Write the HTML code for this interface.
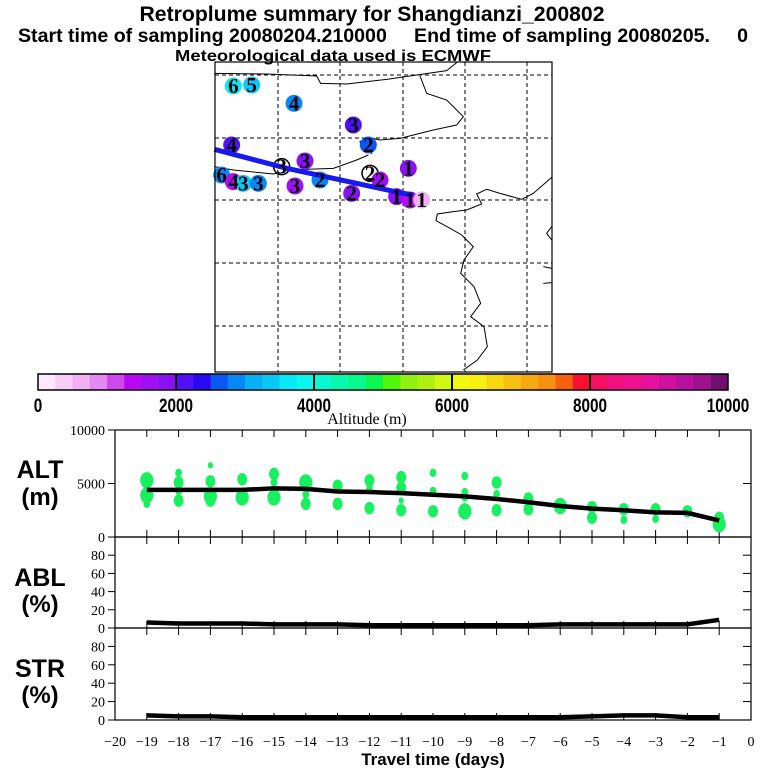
<!DOCTYPE html>
<html><head><meta charset="utf-8"><style>
html,body{margin:0;padding:0;background:#fff;}
svg{display:block;}
.t{font-family:"Liberation Sans",sans-serif;font-weight:bold;}
.s{font-family:"Liberation Serif",serif;}
</style></head><body>
<svg id="chart" width="768" height="768" viewBox="0 0 768 768" xmlns="http://www.w3.org/2000/svg">
<rect width="768" height="768" fill="#fff"/>
<g>
<text class="t" x="372" y="21" font-size="21" text-anchor="middle" textLength="465" lengthAdjust="spacingAndGlyphs">Retroplume summary for Shangdianzi_200802</text>
<text class="t" x="18" y="42" font-size="19" textLength="730" lengthAdjust="spacingAndGlyphs" style="white-space:pre" xml:space="preserve">Start time of sampling 20080204.210000     End time of sampling 20080205.     0</text>
<text class="t" x="333" y="61" font-size="16" text-anchor="middle" textLength="316" lengthAdjust="spacingAndGlyphs">Meteorological data used is ECMWF</text>
</g>
<g id="map"></g>
<g id="cbar"></g>
<g id="panels"></g>
</svg>
<script>
// ---- data ----
const days = [-19,-18,-17,-16,-15,-14,-13,-12,-11,-10,-9,-8,-7,-6,-5,-4,-3,-2,-1];
const altMean = [4400,4400,4400,4400,4550,4500,4250,4200,4100,3950,3800,3550,3250,2900,2650,2500,2300,2250,1550];
const ablMean = [6,5,5,5,4,4,4,3,3,3,3,3,3,4,4,4,4,4,9];
const strMean = [5,4,4,3,3,3,3,3,3,3,3,3,3,3,4,5,5,3,3];
const clusterDay = [-19,-19,-19,-18,-18,-18,-18,-17,-17,-17,-17,-16,-16,-15,-15,-15,-14,-14,-14,-13,-13,-12,-12,-12,-12,-11,-11,-11,-11,-10,-10,-10,-9,-9,-9,-9,-8,-8,-8,-7,-7,-6,-5,-5,-4,-4,-3,-3,-2,-1,-1,-1];
const clusterAlt = [5300,3900,3100,6000,5100,4300,3400,6700,5200,3800,3400,5400,3700,5900,5100,3700,5100,4000,3100,4800,3100,5300,4900,4400,2700,5600,4600,3400,2500,6000,4300,2400,5700,4200,3700,2400,5100,4000,2500,3600,2600,2900,2800,1800,2600,1600,2600,1700,2400,1800,1200,900];
const clusterSize = [3,3,1,1,2,1,2,0.5,2,3,2,2,3,2,1,3,3,1,2,2,2,2,1,1,2,2,2,0.5,2,1,1,2,1,1,1,3,2,1,2,2,2,3,2,2,2,1,2,1,2,2,3,1];
const cbarColors = ["#fde8fd","#f8cdf8","#f2b0f5","#e588f2","#d048f0","#b808f5","#a010f5","#8a10f5",
 "#5010f8","#2808f5","#0858f8","#0888f8","#08b0f8","#08c8f8","#08e8f8","#08f8f0",
 "#08f8d0","#08f8b0","#08f890","#08f850","#50f808","#90f010","#b0f010","#d0f810",
 "#f0f810","#f8f010","#f8d810","#f8c010","#f8a810","#f89010","#f86010","#f81030",
 "#f81060","#f01080","#f01090","#e810a0","#d010a0","#b810a0","#a01090","#701070"];
const cbarTicks = [0,2000,4000,6000,8000,10000];
const xTicks = [-20,-19,-18,-17,-16,-15,-14,-13,-12,-11,-10,-9,-8,-7,-6,-5,-4,-3,-2,-1,0];
const altTicks = [0,5000,10000];
const pctTicks = [0,20,40,60,80];
// map markers (zoom coords relative to map frame)
const markerX = [100,155,282,460,505,95,315,245,65,100,130,175,285,360,455,510,540,625,590,630,665];
const markerY = [78,75,130,195,255,255,303,320,345,365,370,370,378,360,400,340,360,325,410,420,420];
const markerAlt = [3700,3300,2800,2200,2500,2200,1800,-1,2800,1300,3300,2800,1600,2800,1800,-1,1600,1800,1800,1300,600];
const markerLabel = ["6","5","4","3","2","4","3","3","6","4","3","3","3","2","2","2","2","1","1","1","1"];
const trajX = [43,260,600,640];
const trajY = [268,325,398,405];

const NS="http://www.w3.org/2000/svg";
function mk(tag,attrs,parent){const e=document.createElementNS(NS,tag);for(const k in attrs)e.setAttribute(k,attrs[k]);parent.appendChild(e);return e;}

// ---- map ----
const map=document.getElementById('map');
const mx=v=>200+v/3, my=v=>60+v/3;
const coast=[
 [[43,40],[200,42],[350,48],[362,70],[440,72],[560,58],[650,45],[740,32],[770,8]],
 [[660,48],[680,100],[740,120],[790,170],[770,195],[700,210],[600,235],[540,240],[505,232],[480,245],[490,270],[515,280],[520,240]],
 [[43,320],[100,330],[220,342],[260,330],[400,325],[470,300],[505,285]],
 [[1055,352],[1000,400],[965,418],[900,400],[860,388],[830,402],[845,432],[800,450],[760,455],[712,462],[708,482],[750,505],[785,525],[820,560],[792,600],[782,640],[822,680],[842,730],[812,770],[852,800],[862,860],[832,900],[790,930]],
 [[1055,500],[1040,520],[1055,540]],[[1030,620],[1055,625]],[[1030,670],[1055,668]]
];
coast.forEach((c,i)=>{const p=mk('polyline',{points:c.map(q=>mx(q[0])+','+my(q[1])).join(' '),fill:'none',stroke:'#000','stroke-width':1},map);

});
[278,340,403,465,527].forEach(x=>{const l=mk('line',{x1:x,y1:62,x2:x,y2:372,stroke:'#000','stroke-dasharray':'4,3','stroke-width':1},map);

});
[75,138,200,263,326].forEach(y=>{const l=mk('line',{x1:215,y1:y,x2:552,y2:y,stroke:'#000','stroke-dasharray':'4,3','stroke-width':1},map);

});
function altColor(a){const i=Math.max(0,Math.min(39,Math.floor(a/250)));return cbarColors[i];}
markerX.forEach((x,i)=>{
 if(markerAlt[i]>=0){const c=mk('circle',{cx:mx(x),cy:my(markerY[i]),r:8.5,fill:altColor(markerAlt[i])},map);
 
 }
 else {const c=mk('circle',{cx:mx(x),cy:my(markerY[i]),r:8,fill:'#fff',stroke:'#000','stroke-width':1.5},map);
 
 }
});
const tr=mk('polyline',{points:trajX.map((x,i)=>mx(x)+','+my(trajY[i])).join(' '),fill:'none',stroke:'#1818f0','stroke-width':5},map);


markerX.forEach((x,i)=>{const t=mk('text',{x:mx(x),y:my(markerY[i])+7,'font-size':21,'font-weight':'bold','text-anchor':'middle',class:'s',fill:'#000'},map);t.textContent=markerLabel[i];

});
const fr=mk('rect',{x:215,y:62,width:337,height:310,fill:'none',stroke:'#000','stroke-width':1.2},map);



// ---- colorbar ----
const cb=document.getElementById('cbar');
const cx0=38,cx1=728,cy0=374,cy1=390;
const cbx=v=>cx0+(cx1-cx0)*v/10000;
cbarColors.forEach((c,i)=>{const r=mk('rect',{x:cbx(i*250),y:cy0,width:cbx((i+1)*250)-cbx(i*250)+0.5,height:cy1-cy0,fill:c},cb);

});
mk('rect',{x:cx0,y:cy0,width:cx1-cx0,height:cy1-cy0,fill:'none',stroke:'#000','stroke-width':1.5},cb);
cbarTicks.forEach(v=>{
 if(v>0&&v<10000)mk('line',{x1:cbx(v),y1:cy0,x2:cbx(v),y2:cy1,stroke:'#000','stroke-width':2},cb);
 const w=String(v).length*8.5;
 const t=mk('text',{x:cbx(v),y:412,'font-size':19,'text-anchor':'middle',class:'t',textLength:w,lengthAdjust:'spacingAndGlyphs'},cb);t.textContent=v;
 
 
});
const at=mk('text',{x:367,y:424,'font-size':16,'text-anchor':'middle',class:'s'},cb);at.textContent='Altitude (m)';



// ---- panels ----
const pg=document.getElementById('panels');
const X0=115,X1=751;
const xs=d=>X0+(d+20)*(X1-X0)/20;
const panels=[{name:'alt',top:430,bot:537,max:10000,ticks:altTicks,l1:'ALT',l2:'(m)',ly:[478,505]},
 {name:'abl',top:537,bot:628,max:100,ticks:pctTicks,l1:'ABL',l2:'(%)',ly:[586,612]},
 {name:'str',top:628,bot:720,max:100,ticks:pctTicks,l1:'STR',l2:'(%)',ly:[677,703]}];
panels.forEach(p=>{
 const ys=v=>p.bot-(p.bot-p.top)*v/p.max;
 p.ys=ys;
 const g=mk('g',{},pg);
 
 
 mk('rect',{x:X0,y:p.top,width:X1-X0,height:p.bot-p.top,fill:'none',stroke:'#000','stroke-width':1.2},g);
 p.ticks.forEach(v=>{
  mk('line',{x1:X0-7,y1:ys(v),x2:X0,y2:ys(v),stroke:'#000'},g);
  mk('line',{x1:X1-8,y1:ys(v),x2:X1,y2:ys(v),stroke:'#000'},g);
  const t=mk('text',{x:X0-10,y:ys(v)+5,'font-size':14,'text-anchor':'end',class:'s'},g);t.textContent=v;
  
  
 });
 days.forEach(d=>{
  mk('line',{x1:xs(d),y1:p.top,x2:xs(d),y2:p.top+7,stroke:'#000'},g);
  mk('line',{x1:xs(d),y1:p.bot,x2:xs(d),y2:p.bot-7,stroke:'#000'},g);
 });
 const t1=mk('text',{x:40,y:p.ly[0],'font-size':25,'text-anchor':'middle',class:'t'},g);t1.textContent=p.l1;
 
 
 const t2=mk('text',{x:40,y:p.ly[1],'font-size':24,'text-anchor':'middle',class:'t'},g);t2.textContent=p.l2;
 
 
});
// green clusters
clusterDay.forEach((d,i)=>{const s=clusterSize[i];
 const e=mk('ellipse',{cx:xs(d),cy:panels[0].ys(clusterAlt[i]),rx:1.8+s*1.6,ry:2.2+s*2,fill:'#18f060'},pg);
 
 });
const series=[[altMean,0,'alt-mean-line'],[ablMean,1,'abl-mean-line'],[strMean,2,'str-mean-line']];
series.forEach(s=>{const p=panels[s[1]];
 const l=mk('polyline',{points:days.map((d,i)=>xs(d)+','+p.ys(s[0][i])).join(' '),fill:'none',stroke:'#000','stroke-width':4.5},pg);
 
 });
xTicks.forEach(d=>{const t=mk('text',{x:xs(d),y:746,'font-size':14,'text-anchor':'middle',class:'s'},pg);t.textContent=d===0?'0':'\u2212'+(-d);
 
 });
const xt=mk('text',{x:433,y:765,'font-size':17,'text-anchor':'middle',class:'t'},pg);xt.textContent='Travel time (days)';


</script>
</body></html>
